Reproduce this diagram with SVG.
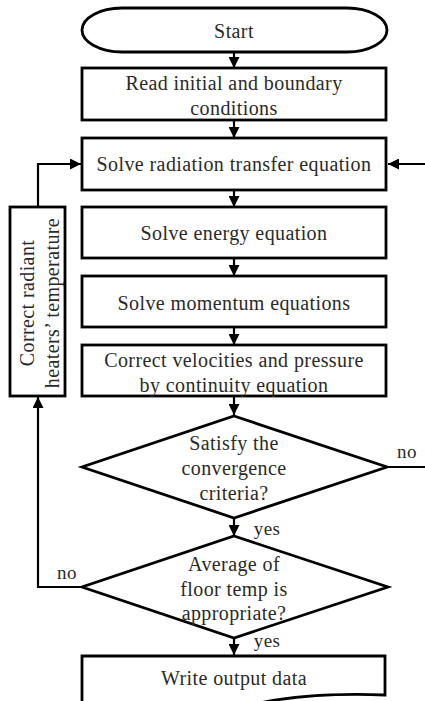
<svg xmlns="http://www.w3.org/2000/svg" width="425" height="701" viewBox="0 0 425 701">
<defs>
<style>
.s{fill:#fff;stroke:#000;stroke-width:2.8}
.c{fill:none;stroke:#000;stroke-width:2.2}
text{font-family:"Liberation Serif","Times New Roman",serif;font-size:20px;letter-spacing:0.4px;fill:#2a2a2a;text-anchor:middle;dominant-baseline:central}
.l{font-size:19px}
</style>
<marker id="a" viewBox="0 0 10 10" refX="10" refY="5" markerWidth="5" markerHeight="5" orient="auto" markerUnits="strokeWidth"><path d="M0,0 L10,5 L0,10 z" fill="#000"/></marker>
</defs>
<g id="connectors">
<line class="c" x1="234" y1="52" x2="234" y2="68" marker-end="url(#a)"/>
<line class="c" x1="234" y1="120" x2="234" y2="138" marker-end="url(#a)"/>
<line class="c" x1="234" y1="190" x2="234" y2="207" marker-end="url(#a)"/>
<line class="c" x1="234" y1="258" x2="234" y2="276" marker-end="url(#a)"/>
<line class="c" x1="234" y1="327" x2="234" y2="345" marker-end="url(#a)"/>
<line class="c" x1="234" y1="396" x2="234" y2="415" marker-end="url(#a)"/>
<line class="c" x1="234" y1="518" x2="234" y2="536" marker-end="url(#a)"/>
<line class="c" x1="234" y1="638" x2="234" y2="655" marker-end="url(#a)"/>
<polyline class="c" points="387,467 427,467 427,164 388,164" marker-end="url(#a)"/>
<polyline class="c" points="82,587 38,587 38,397" marker-end="url(#a)"/>
<polyline class="c" points="38,207 38,164 81,164" marker-end="url(#a)"/>
<text class="l" x="407" y="451">no</text>
<text class="l" x="267" y="528">yes</text>
<text class="l" x="67" y="572">no</text>
<text class="l" x="267" y="640">yes</text>
</g>
<g id="start">
<rect class="s" x="82" y="8" width="305" height="44" rx="40" ry="22"/>
<text x="234" y="31">Start</text>
</g>
<g id="read">
<rect class="s" x="82" y="68" width="304" height="52"/>
<text x="234" y="83">Read initial and boundary</text>
<text x="234" y="108">conditions</text>
</g>
<g id="radiation">
<rect class="s" x="82" y="138" width="304" height="52"/>
<text x="234" y="164">Solve radiation transfer equation</text>
</g>
<g id="energy">
<rect class="s" x="82" y="207" width="304" height="51"/>
<text x="234" y="233">Solve energy equation</text>
</g>
<g id="momentum">
<rect class="s" x="82" y="276" width="304" height="51"/>
<text x="234" y="303">Solve momentum equations</text>
</g>
<g id="correct">
<rect class="s" x="82" y="345" width="304" height="51"/>
<text x="234" y="360">Correct velocities and pressure</text>
<text x="234" y="385">by continuity equation</text>
</g>
<g id="converge">
<polygon class="s" points="234,416 387,467 234,518 82,467"/>
<text x="234" y="443">Satisfy the</text>
<text x="234" y="468">convergence</text>
<text x="234" y="493">criteria?</text>
</g>
<g id="floor">
<polygon class="s" points="234,536 388,587 234,638 82,587"/>
<text x="234" y="564">Average of</text>
<text x="234" y="589">floor temp is</text>
<text x="234" y="613">appropriate?</text>
</g>
<g id="heaters">
<rect class="s" x="10" y="207" width="55" height="189"/>
<text transform="translate(27,303) rotate(-90)">Correct radiant</text>
<text transform="translate(52,303) rotate(-90)">heaters’ temperature</text>
</g>
<g id="write">
<path class="s" d="M82,712 V656 H385 V695 C330,693 270,697 225,712 Z"/>
<text x="234" y="678">Write output data</text>
</g>
</svg>
